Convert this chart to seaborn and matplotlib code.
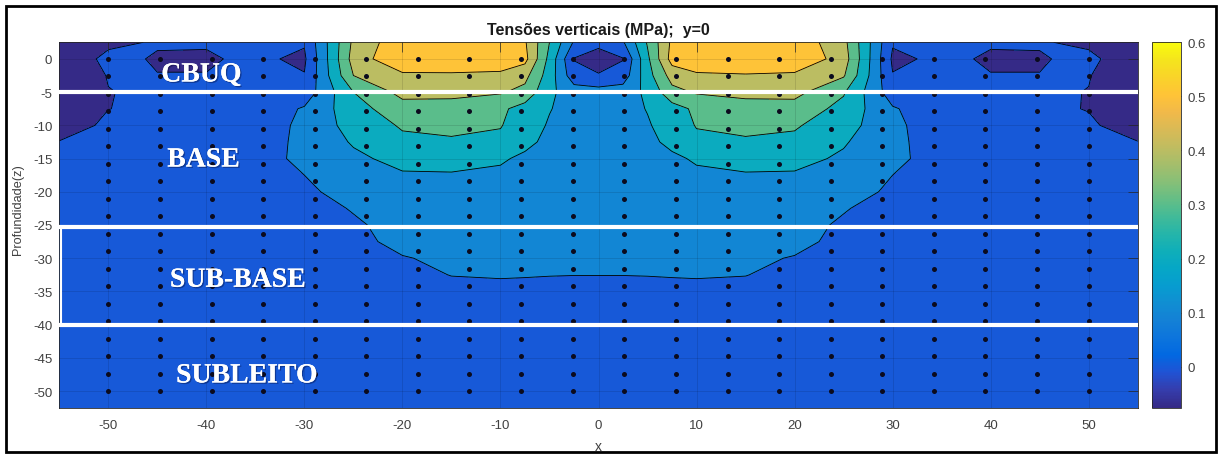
import numpy as np
import pandas as pd
import matplotlib
matplotlib.use("Agg")
import matplotlib.pyplot as plt
import seaborn as sns
from matplotlib.colors import LinearSegmentedColormap, Normalize
from matplotlib.cm import ScalarMappable
from matplotlib.patches import Rectangle
from matplotlib.ticker import FormatStrFormatter
import matplotlib.patheffects as pe

# ---------------- data ----------------
x_nodes = [-55, -50, -45, -40, -35, -30, -25, -20, -15, -10, -7.5, -5, -2.5, 0,
           2.5, 5, 7.5, 10, 15, 20, 25, 30, 35, 40, 45, 50, 55]
z_nodes = [2.5, 0, -2.5, -5, -7.5, -10, -12.5, -15, -17.5, -20, -22.5, -25,
           -27.5, -30, -32.5, -35, -40, -46, -52.5]

stress = [
    [-0.07, -0.02, 0.008, 0.006, 0.01, 0.008, 0.42, 0.57, 0.58, 0.57, 0.51, 0.30, 0.09, 0.035,
     0.09, 0.31, 0.52, 0.57, 0.58, 0.57, 0.43, 0.008, 0.01, 0.006, 0.008, -0.02, -0.07],
    [-0.076, 0.025, -0.008, -0.008, 0.015, -0.015, 0.44, 0.59, 0.60, 0.59, 0.53, 0.27, -0.005, -0.06,
     -0.005, 0.28, 0.54, 0.59, 0.60, 0.59, 0.45, -0.015, 0.015, -0.008, -0.008, 0.025, -0.074],
    [-0.07, 0.004, 0.002, 0.002, 0.012, 0.004, 0.40, 0.48, 0.48, 0.47, 0.43, 0.25, 0.04, 0.01,
     0.045, 0.26, 0.44, 0.48, 0.49, 0.48, 0.41, 0.004, 0.012, 0.002, 0.002, 0.004, -0.068],
    [-0.06, -0.002, 0.012, 0.015, 0.025, 0.04, 0.30, 0.43, 0.42, 0.41, 0.37, 0.22, 0.15, 0.14,
     0.15, 0.22, 0.37, 0.41, 0.42, 0.43, 0.31, 0.045, 0.025, 0.015, 0.012, -0.002, -0.058],
    [-0.05, -0.001, 0.015, 0.02, 0.035, 0.11, 0.26, 0.36, 0.37, 0.32, 0.26, 0.205, 0.16, 0.15,
     0.16, 0.205, 0.26, 0.32, 0.37, 0.36, 0.27, 0.11, 0.035, 0.02, 0.015, -0.003, -0.05],
    [-0.04, 0.015, 0.02, 0.03, 0.05, 0.12, 0.24, 0.31, 0.32, 0.305, 0.25, 0.19, 0.16, 0.15,
     0.16, 0.19, 0.25, 0.305, 0.32, 0.31, 0.245, 0.12, 0.05, 0.03, 0.02, 0.012, -0.04],
    [0.003, 0.02, 0.025, 0.035, 0.06, 0.12, 0.21, 0.28, 0.29, 0.28, 0.22, 0.18, 0.16, 0.15,
     0.16, 0.18, 0.22, 0.28, 0.29, 0.28, 0.21, 0.12, 0.06, 0.035, 0.025, 0.02, 0.002],
    [0.01, 0.025, 0.03, 0.04, 0.065, 0.12, 0.18, 0.23, 0.235, 0.21, 0.185, 0.17, 0.155, 0.15,
     0.155, 0.17, 0.185, 0.21, 0.235, 0.23, 0.185, 0.12, 0.065, 0.04, 0.03, 0.025, 0.01],
    [0.02, 0.03, 0.035, 0.045, 0.07, 0.10, 0.16, 0.19, 0.192, 0.185, 0.17, 0.16, 0.155, 0.15,
     0.155, 0.16, 0.17, 0.185, 0.192, 0.19, 0.16, 0.10, 0.07, 0.045, 0.035, 0.03, 0.02],
    [0.025, 0.03, 0.04, 0.045, 0.06, 0.085, 0.13, 0.16, 0.17, 0.165, 0.16, 0.155, 0.15, 0.15,
     0.15, 0.155, 0.16, 0.165, 0.17, 0.16, 0.13, 0.088, 0.06, 0.045, 0.04, 0.03, 0.025],
    [0.03, 0.035, 0.04, 0.045, 0.055, 0.07, 0.105, 0.14, 0.15, 0.15, 0.145, 0.14, 0.14, 0.14,
     0.14, 0.14, 0.145, 0.15, 0.15, 0.14, 0.105, 0.07, 0.055, 0.045, 0.04, 0.035, 0.03],
    [0.03, 0.035, 0.04, 0.045, 0.05, 0.065, 0.09, 0.125, 0.14, 0.14, 0.138, 0.135, 0.135, 0.135,
     0.135, 0.135, 0.138, 0.14, 0.14, 0.125, 0.09, 0.065, 0.05, 0.045, 0.04, 0.035, 0.03],
    [0.035, 0.035, 0.04, 0.045, 0.05, 0.06, 0.085, 0.115, 0.125, 0.125, 0.125, 0.125, 0.125, 0.125,
     0.125, 0.125, 0.125, 0.125, 0.125, 0.115, 0.085, 0.06, 0.05, 0.045, 0.04, 0.035, 0.035],
    [0.035, 0.035, 0.04, 0.045, 0.05, 0.058, 0.075, 0.097, 0.11, 0.112, 0.112, 0.113, 0.114, 0.115,
     0.114, 0.113, 0.112, 0.112, 0.11, 0.097, 0.075, 0.058, 0.05, 0.045, 0.04, 0.035, 0.035],
    [0.035, 0.035, 0.038, 0.042, 0.047, 0.053, 0.068, 0.088, 0.101, 0.103, 0.102, 0.101, 0.1005, 0.1005,
     0.1005, 0.101, 0.102, 0.103, 0.101, 0.088, 0.068, 0.053, 0.047, 0.042, 0.038, 0.035, 0.035],
    [0.035, 0.035, 0.037, 0.04, 0.044, 0.05, 0.062, 0.076, 0.088, 0.09, 0.09, 0.089, 0.088, 0.088,
     0.088, 0.089, 0.09, 0.09, 0.088, 0.076, 0.062, 0.05, 0.044, 0.04, 0.037, 0.035, 0.035],
    [0.035, 0.035, 0.036, 0.038, 0.04, 0.045, 0.052, 0.06, 0.067, 0.07, 0.071, 0.071, 0.071, 0.071,
     0.071, 0.071, 0.071, 0.07, 0.067, 0.06, 0.052, 0.045, 0.04, 0.038, 0.036, 0.035, 0.035],
    [0.034, 0.035, 0.036, 0.037, 0.039, 0.042, 0.046, 0.05, 0.054, 0.056, 0.057, 0.057, 0.057, 0.057,
     0.057, 0.057, 0.057, 0.056, 0.054, 0.05, 0.046, 0.042, 0.039, 0.037, 0.036, 0.035, 0.034],
    [0.034, 0.035, 0.035, 0.036, 0.037, 0.039, 0.041, 0.044, 0.046, 0.047, 0.048, 0.048, 0.048, 0.048,
     0.048, 0.048, 0.048, 0.047, 0.046, 0.044, 0.041, 0.039, 0.037, 0.036, 0.035, 0.035, 0.034],
]

# evaluation points (black dots)
mesh_x = [-50.0, -44.74, -39.47, -34.21, -28.95, -23.68, -18.42, -13.16, -7.89, -2.63,
          2.63, 7.89, 13.16, 18.42, 23.68, 28.95, 34.21, 39.47, 44.74, 50.0]
mesh_z = [0.0, -2.63, -5.26, -7.89, -10.53, -13.16, -15.79, -18.42, -21.05, -23.68,
          -26.32, -28.95, -31.58, -34.21, -36.84, -39.47, -42.11, -44.74, -47.37, -50.0]

contour_levels = [0.0, 0.1, 0.2, 0.3, 0.4, 0.5]
cbar_ticks = [0, 0.1, 0.2, 0.3, 0.4, 0.5, 0.6]
x_ticks = [-50, -40, -30, -20, -10, 0, 10, 20, 30, 40, 50]
z_ticks = [0, -5, -10, -15, -20, -25, -30, -35, -40, -45, -50]
layer_names = ["CBUQ", "BASE", "SUB-BASE", "SUBLEITO"]
layer_interfaces = [-5.0, -25.3, -40.0]

# ---------------- style ----------------
parula_anchors = [
    [0.2081, 0.1663, 0.5292], [0.2081, 0.2386, 0.6771], [0.1253, 0.3242, 0.8303],
    [0.0060, 0.4086, 0.8828], [0.0498, 0.4586, 0.8641], [0.0779, 0.5040, 0.8384],
    [0.0641, 0.5570, 0.8240], [0.0265, 0.6137, 0.8135], [0.0228, 0.6535, 0.7768],
    [0.0590, 0.6838, 0.7254], [0.1453, 0.7098, 0.6646], [0.2586, 0.7317, 0.5954],
    [0.3953, 0.7459, 0.5244], [0.5300, 0.7491, 0.4661], [0.6473, 0.7456, 0.4188],
    [0.7525, 0.7384, 0.3768], [0.8508, 0.7299, 0.3360], [0.9450, 0.7261, 0.2886],
    [0.9990, 0.7653, 0.2164], [0.9789, 0.8271, 0.1633], [0.9589, 0.8949, 0.1132],
    [0.9763, 0.9831, 0.0538]]
cmap = LinearSegmentedColormap.from_list("parula", parula_anchors, N=256)

sns.set_style("white")
plt.rcParams['font.family'] = ['Liberation Sans', 'DejaVu Sans']
plt.rcParams['axes.unicode_minus'] = False

W, H = 1219, 456
fig = plt.figure(figsize=(W / 100, H / 100), dpi=100)
ax_l, ax_r, ax_t, ax_b = 59.3, 1137.7, 43.3, 408.7
ax = fig.add_axes([ax_l / W, 1 - ax_b / H, (ax_r - ax_l) / W, (ax_b - ax_t) / H])
cax = fig.add_axes([1151.7 / W, 1 - ax_b / H, 29 / W, (ax_b - ax_t) / H])

Z = np.array(stress)
vmin, vmax = float(Z.min()), float(Z.max())
norm = Normalize(vmin, vmax)
fill_levels = [vmin] + contour_levels + [vmax + 1e-3]
fill_colors = [cmap(norm(v)) for v in fill_levels[:-1]]

ax.contourf(x_nodes, z_nodes, Z, levels=fill_levels, colors=fill_colors, zorder=1)
ax.contour(x_nodes, z_nodes, Z, levels=contour_levels, colors='k',
           linewidths=0.6, zorder=2)

mx, mz = np.meshgrid(mesh_x, mesh_z)
dots = pd.DataFrame({"x": mx.ravel(), "z": mz.ravel()})
sns.scatterplot(data=dots, x="x", y="z", color="#0b0b1e", s=13, linewidth=0,
                ax=ax, zorder=5, legend=False)

ax.set_xlim(-55, 55)
ax.set_ylim(-52.5, 2.5)
ax.set_xticks(x_ticks)
ax.set_yticks(z_ticks)
ax.grid(True, color='k', alpha=0.15, linewidth=0.5)
ax.set_axisbelow(False)
ax.tick_params(direction='in', top=True, right=True, length=7, width=0.5,
               color='#262626', labelsize=9.5, labelcolor='#404040')
ax.tick_params(axis='x', pad=8)
ax.tick_params(axis='y', pad=5)
for s in ax.spines.values():
    s.set_color('#262626')
    s.set_linewidth(0.6)

for zi in layer_interfaces:
    ax.axhline(zi, color='white', linewidth=3, zorder=6)
ax.plot([-54.85, -54.85], [layer_interfaces[1], layer_interfaces[2]], color='white',
        linewidth=1.5, zorder=6)

label_pos = [(-40.5, -3.4), (-40.3, -16.2), (-36.8, -34.3), (-35.9, -48.7)]
for name, (lx, lz) in zip(layer_names, label_pos):
    ax.text(lx, lz, name, color='white', fontsize=20, fontweight='bold',
            family=['Liberation Serif', 'DejaVu Serif'], ha='center', va='baseline',
            zorder=7,
            path_effects=[pe.withSimplePatchShadow(offset=(1, -1), shadow_rgbFace='#000020', alpha=0.35),
                          pe.Normal()])

ax.set_title("Tensões verticais (MPa);  y=0", fontsize=11.5, fontweight='bold',
             color='#1a1a1a', pad=6)
ax.set_xlabel("x", fontsize=10, color='#404040')
ax.xaxis.set_label_coords(0.5, (ax_b - 440) / (ax_b - ax_t))
ax.xaxis.label.set_va('top')
ax.set_ylabel("Profundidade(z)", fontsize=9.2, color='#404040')
ax.yaxis.set_label_coords((24.5 - ax_l) / (ax_r - ax_l), (ax_b - 210) / (ax_b - ax_t))

cb = fig.colorbar(ScalarMappable(norm=norm, cmap=cmap), cax=cax, ticks=cbar_ticks)
cb.ax.yaxis.set_major_formatter(FormatStrFormatter('%g'))
cb.ax.tick_params(direction='in', length=4, width=0.5, color='#262626',
                  labelsize=9.5, labelcolor='#404040', pad=5)
cb.outline.set_edgecolor('#262626')
cb.outline.set_linewidth(0.6)

fig.patches.append(Rectangle((6 / W, 3 / H), (1216 - 6) / W, (453 - 7) / H,
                             transform=fig.transFigure, fill=False,
                             edgecolor='black', linewidth=2, zorder=10))

fig.savefig("out.png", dpi=100)
